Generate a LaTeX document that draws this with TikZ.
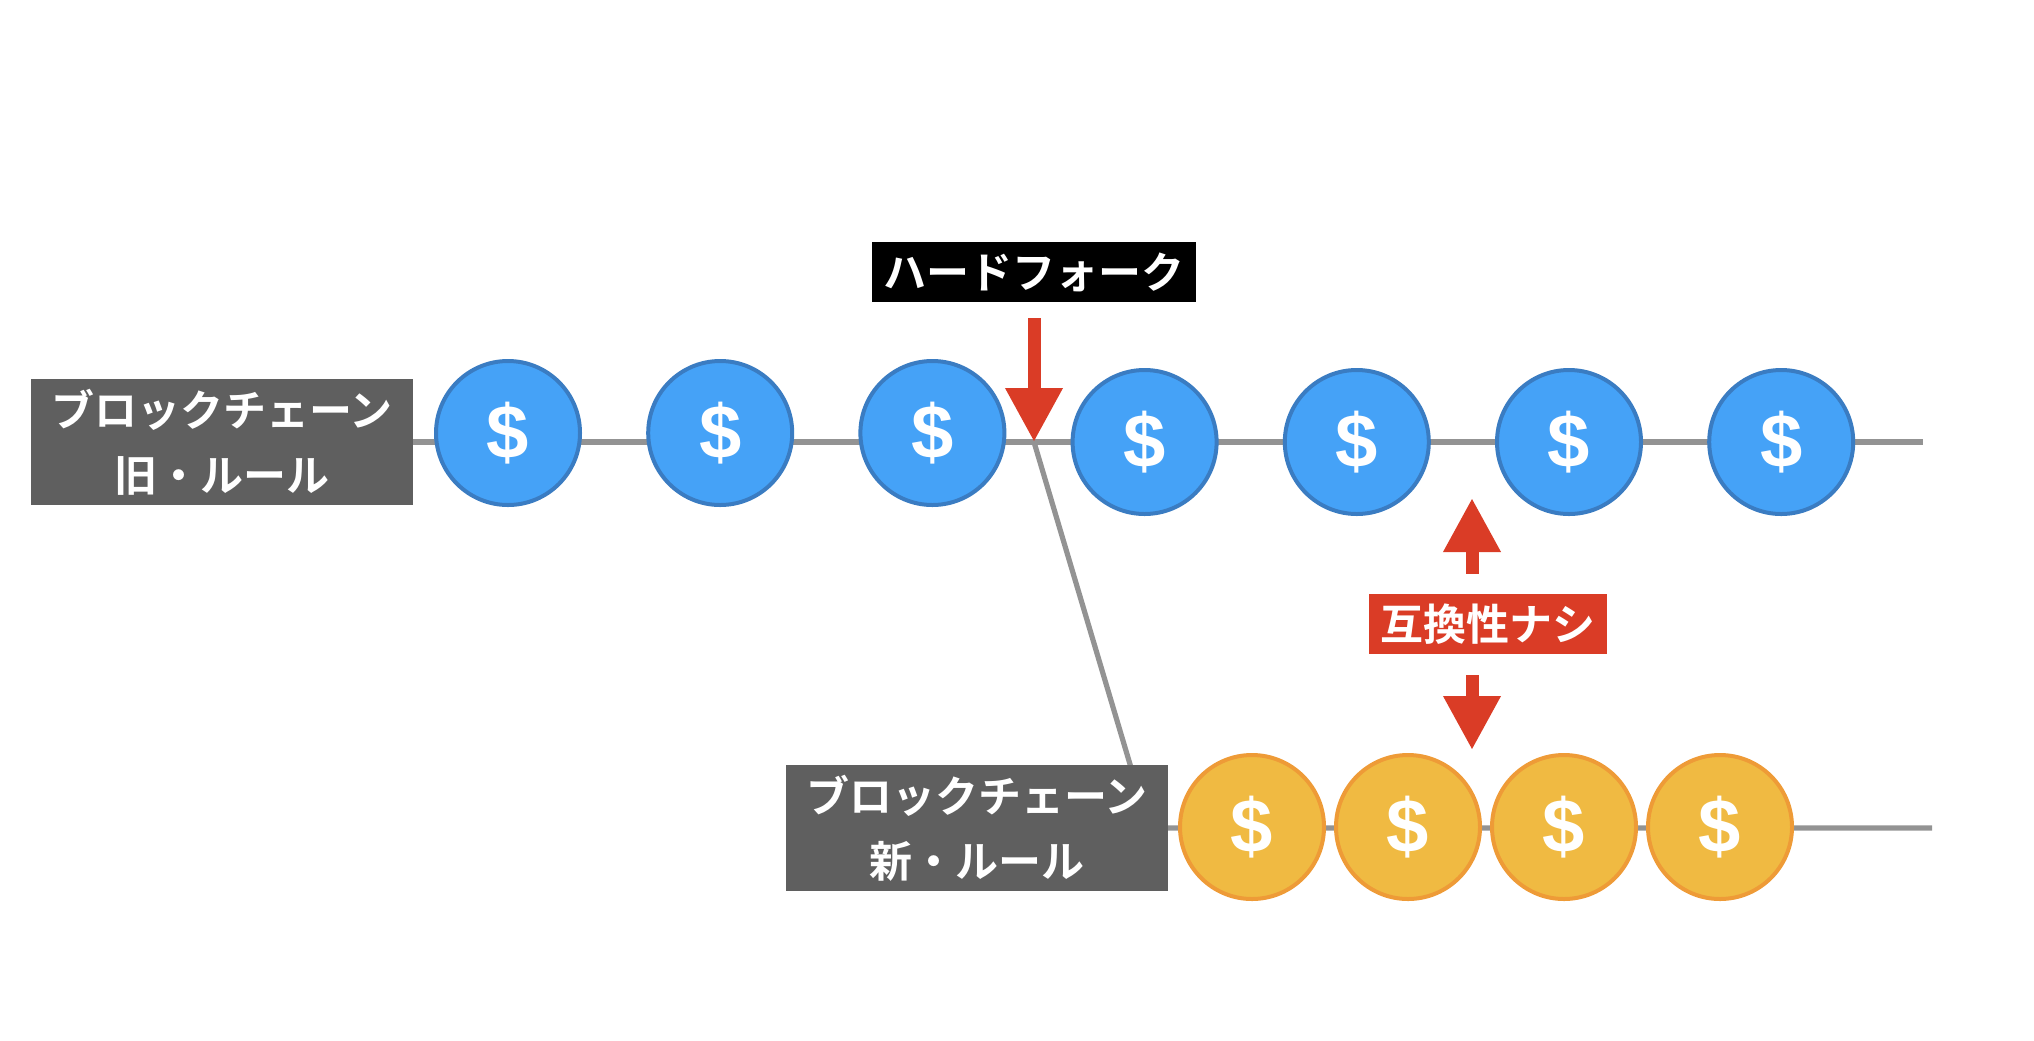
\documentclass[tikz,border=0pt]{standalone}
\usepackage{fontspec}
\setmainfont{Liberation Sans}
\newfontfamily\jpfont{Noto Sans CJK JP}[BoldFont={Noto Sans CJK JP Bold}]
\usetikzlibrary{arrows.meta,calc,positioning,backgrounds}
\definecolor{coinblue}{HTML}{45A2F7}
\definecolor{coinblueedge}{HTML}{3A7CC2}
\definecolor{coingold}{HTML}{F0BA42}
\definecolor{coingoldedge}{HTML}{EE9B37}
\definecolor{rulegray}{HTML}{5F5F5F}
\definecolor{chaingray}{HTML}{939393}
\definecolor{alertred}{HTML}{DA3C26}
\newcommand{\gap}{212.2}
\newcommand{\ngap}{156}
\tikzset{
  coin/.style={circle,minimum size=72pt,inner sep=0pt,line width=2pt,
    text=white,font=\bfseries\fontsize{38}{38}\selectfont},
  oldcoin/.style={coin,fill=coinblue,draw=coinblueedge},
  newcoin/.style={coin,fill=coingold,draw=coingoldedge},
  rulebox/.style={fill=rulegray,text=white,minimum width=191pt,minimum height=63pt,
    align=center,font=\jpfont\bfseries\fontsize{21.5}{32.5}\selectfont},
  tagbox/.style={text=white,minimum height=30pt,inner sep=0pt,
    font=\jpfont\bfseries\fontsize{21.5}{25}\selectfont},
  chain/.style={draw=chaingray,line width=2.6pt},
  redarrow/.style={draw=alertred,line width=6.5pt,-{Triangle[length=27pt,width=27pt]}}
}

\begin{document}
\begin{tikzpicture}[x=0.5pt,y=-0.5pt]
\useasboundingbox (0,0) rectangle (2034,1040);
\coordinate (fork) at (1034,442);
\coordinate (join) at (1149,828);
\coordinate (end1) at (1923,442);
\coordinate (end2) at (1932,828);
\coordinate (up) at (1472,498);
\coordinate (down) at (1472,750);

\node[rulebox] (oldrule) at (222,442) {ブロックチェーン\\旧・ルール};
\node[rulebox] (newrule) at (977,828) {ブロックチェーン\\新・ルール};
\foreach \i in {1,2,3}
  \node[oldcoin] (coin\i) at ({508+\gap*(\i-1)},433) {\$};
\foreach \i in {4,...,7}
  \node[oldcoin] (coin\i) at ({508+\gap*(\i-1)},442) {\$};
\foreach \i in {1,...,4}
  \node[newcoin] (new\i) at ({1252+\ngap*(\i-1)},827) {\$};

\node[tagbox,fill=black,minimum width=162pt] (hardfork) at (1034,272) {ハードフォーク};
\node[tagbox,fill=alertred,minimum width=119pt] (compat) at (1488,624) {互換性ナシ};

\begin{scope}[on background layer]
\draw[chain] (oldrule.center) -- (end1);
\draw[chain] (fork) -- (join) -- (end2);
\end{scope}

\draw[redarrow] ($(hardfork.south)+(0,16)$) -- (fork);
\draw[redarrow] ($(up |- compat.north)+(0,-20)$) -- (up);
\draw[redarrow] ($(down |- compat.south)+(0,21)$) -- (down);
\end{tikzpicture}
\end{document}
